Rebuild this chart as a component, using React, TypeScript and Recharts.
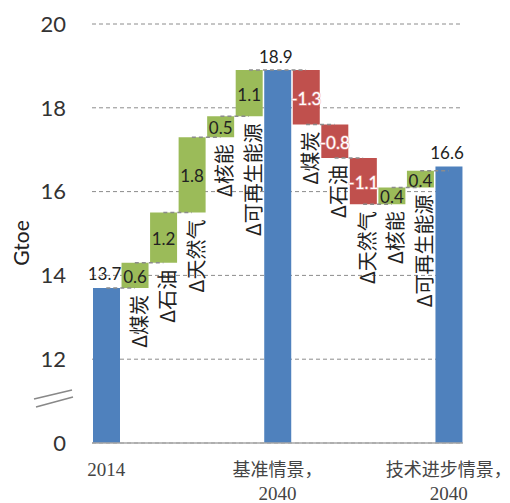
import React from 'react';
import { BarChart, Bar, XAxis, YAxis, CartesianGrid, Cell, LabelList, ReferenceLine } from 'recharts';

const categoryIds = ['c0', 'c1', 'c2', 'c3', 'c4', 'c5', 'c6', 'c7', 'c8', 'c9', 'c10', 'c11', 'c12'];
const axisLabels: string[][] = [
  ['2014'], [], [], [], [], [],
  ['基准情景，', '2040'],
  [], [], [], [], [],
  ['技术进步情景，', '2040'],
];
const barLabels = ['', 'Δ煤炭', 'Δ石油', 'Δ天然气', 'Δ核能', 'Δ可再生能源', '', 'Δ煤炭', 'Δ石油', 'Δ天然气', 'Δ核能', 'Δ可再生能源', ''];
const kinds = ['total', 'delta', 'delta', 'delta', 'delta', 'delta', 'total', 'delta', 'delta', 'delta', 'delta', 'delta', 'total'];
const values = [13.7, 0.6, 1.2, 1.8, 0.5, 1.1, 18.9, -1.3, -0.8, -1.1, 0.4, 0.4, 16.6];
const yTicks = [10, 12, 14, 16, 18, 20];
const yTickLabels = ['0', '12', '14', '16', '18', '20'];
const AXIS_FLOOR = 10;

const COLORS = { total: '#4F81BD', up: '#9BBB59', down: '#C0504D' };

let running = 0;
const data = categoryIds.map((id, i) => {
  const v = values[i];
  let low: number, high: number, color: string;
  if (kinds[i] === 'total') {
    low = AXIS_FLOOR;
    high = v;
    running = v;
    color = COLORS.total;
  } else {
    const start = running;
    const end = running + v;
    low = Math.min(start, end);
    high = Math.max(start, end);
    running = end;
    color = v >= 0 ? COLORS.up : COLORS.down;
  }
  return { id, range: [low, high], level: running, value: v, kind: kinds[i], color, barLabel: barLabels[i] };
});

const connectors = data.slice(0, -1).map((d, i) => ({ from: d.id, to: data[i + 1].id, y: d.level }));

const NUM_FONT = 'Lato, "Noto Sans", sans-serif';
const CJK_FONT = '"Noto Sans CJK SC", "Noto Sans", sans-serif';
const SERIF_FONT = '"Liberation Serif", "Noto Sans CJK SC", serif';

const ValueLabel = (props: any) => {
  const { x, y, width, height, index } = props;
  const d = data[index];
  if (!d) return null;
  const top = Math.min(y, y + height);
  const h = Math.abs(height);
  const cx = x + width / 2;
  const text = d.value.toFixed(1);
  if (d.kind === 'total') {
    return (
      <text x={cx - 2} y={top - 14} textAnchor="middle" dominantBaseline="central" fontSize={17} fontFamily={NUM_FONT} fill="#222">
        {text}
      </text>
    );
  }
  const neg = d.value < 0;
  return (
    <text
      x={cx}
      y={top + h / 2 + 1}
      textAnchor="middle"
      dominantBaseline="central"
      fontSize={17}
      fontFamily={NUM_FONT}
      fill={neg ? '#ffffff' : '#222'}
      stroke={neg ? 'rgba(240,170,170,0.55)' : 'none'}
      strokeWidth={neg ? 1.5 : 0}
      paintOrder="stroke"
    >
      {text}
    </text>
  );
};

const CategoryLabel = (props: any) => {
  const { x, y, width, height, index } = props;
  const d = data[index];
  if (!d || !d.barLabel) return null;
  const bottom = Math.max(y, y + height);
  const cx = x + width / 2 + 3;
  const ty = bottom + 7;
  return (
    <text
      x={cx}
      y={ty}
      transform={`rotate(-90, ${cx}, ${ty})`}
      textAnchor="end"
      dominantBaseline="central"
      fontSize={20}
      fontFamily={CJK_FONT}
      fill="#222"
    >
      {d.barLabel}
    </text>
  );
};

const XTick = (props: any) => {
  const { x, y, payload } = props;
  const idx = payload && typeof payload.index === 'number' ? payload.index : props.index;
  const lines = axisLabels[idx] || [];
  if (!lines.length) return <g />;
  return (
    <g>
      {lines.map((line, k) => (
        <text
          key={k}
          x={x}
          y={y + 31 + k * 24}
          textAnchor="middle"
          fontSize={/^[0-9]+$/.test(line) ? 19 : 18}
          fontFamily={SERIF_FONT}
          fill="#444"
        >
          {line}
        </text>
      ))}
    </g>
  );
};

export default function App() {
  return (
    <div style={{ position: 'absolute', left: 0, top: 0, width: 510, height: 503, background: '#fff' }}>
      <BarChart width={510} height={503} data={data} margin={{ top: 24, right: 47, left: 0, bottom: 0 }} barCategoryGap={1}>
        <CartesianGrid vertical={false} stroke="#8c8c8c" strokeDasharray="4 3" />
        <XAxis
          dataKey="id"
          height={60}
          interval={0}
          axisLine={{ stroke: '#a6a6a6', strokeWidth: 1.5 }}
          tickLine={false}
          tickSize={0}
          tick={<XTick />}
        />
        <YAxis
          type="number"
          width={92}
          domain={[AXIS_FLOOR, 20]}
          ticks={yTicks}
          allowDataOverflow
          axisLine={false}
          tickLine={false}
          tickSize={0}
          tickMargin={26}
          tickFormatter={(v: number) => yTickLabels[yTicks.indexOf(v)] ?? String(v)}
          tick={{ fontSize: 22, fill: '#333', fontFamily: NUM_FONT }}
        />
        <Bar dataKey="range" isAnimationActive={false}>
          {data.map((d) => (
            <Cell key={d.id} fill={d.color} />
          ))}
          <LabelList dataKey="range" content={<ValueLabel />} />
          <LabelList dataKey="range" content={<CategoryLabel />} />
        </Bar>
        {connectors.map((c, i) => (
          <ReferenceLine
            key={i}
            segment={[{ x: c.from, y: c.y }, { x: c.to, y: c.y }]}
            stroke="#8c8c8c"
            strokeWidth={1.5}
            strokeDasharray="4 3"
            ifOverflow="visible"
          />
        ))}
      </BarChart>
      <svg width={510} height={503} style={{ position: 'absolute', left: 0, top: 0, pointerEvents: 'none' }}>
        <text x={20} y={243} transform="rotate(-90, 20, 243)" textAnchor="middle" dominantBaseline="central" fontSize={21} fontFamily={NUM_FONT} fill="#222">
          Gtoe
        </text>
        <line x1={34} y1={399} x2={72} y2={390} stroke="#888" strokeWidth={1.5} />
        <line x1={36} y1={407} x2={73} y2={397} stroke="#888" strokeWidth={1.5} />
      </svg>
    </div>
  );
}
